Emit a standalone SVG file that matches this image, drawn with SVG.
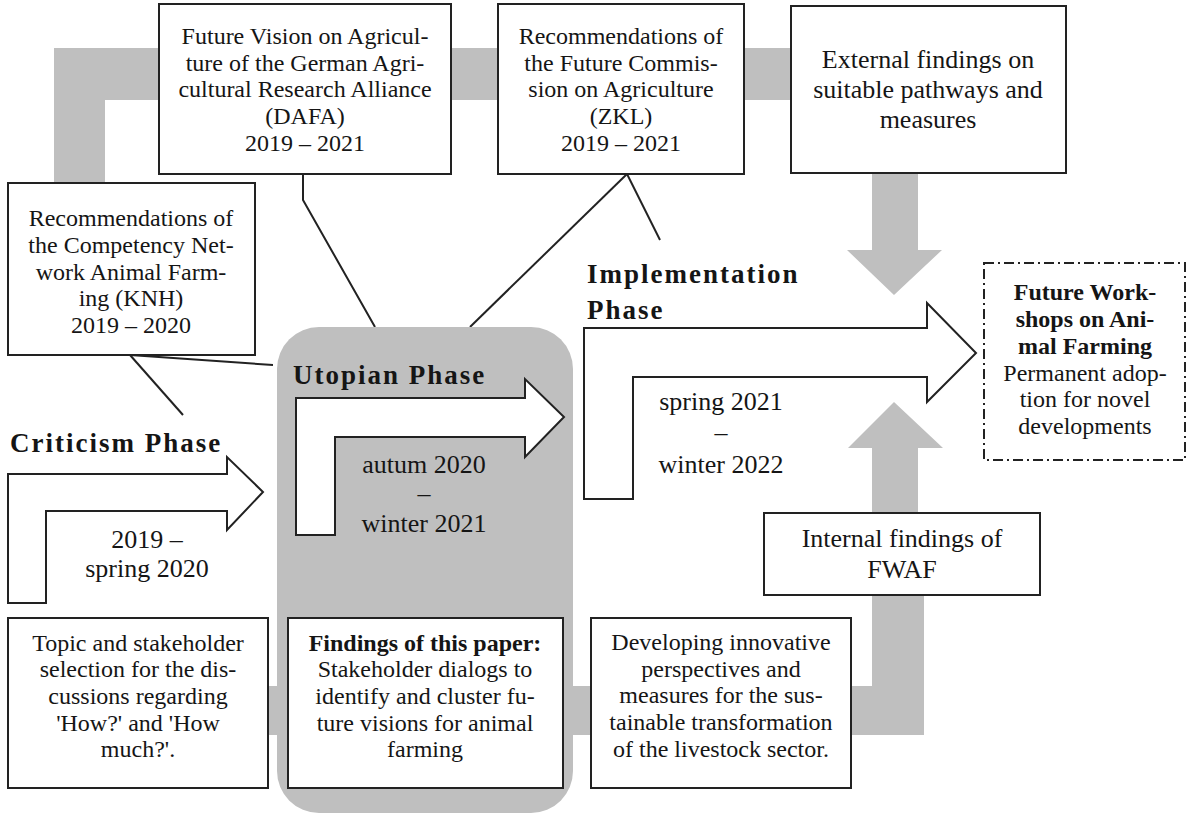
<svg xmlns="http://www.w3.org/2000/svg" width="1187" height="814" viewBox="0 0 1187 814">
<style>
.band{fill:#bfbfbf;stroke:none}
.box{fill:#fff;stroke:#222;stroke-width:2}
.dash{fill:#fff;stroke:#222;stroke-width:2;stroke-dasharray:10 4 2 4}
.arr{fill:#fff;stroke:#222;stroke-width:2;stroke-linejoin:miter}
.ln{fill:none;stroke:#222;stroke-width:2}
.t{font-family:"Liberation Serif","Times New Roman",serif;font-size:24px;fill:#151515;text-anchor:middle}
.tl{font-family:"Liberation Serif","Times New Roman",serif;font-size:26px;fill:#151515;text-anchor:middle}
.b{font-weight:bold}
.ph{font-family:"Liberation Serif","Times New Roman",serif;font-size:27px;font-weight:bold;letter-spacing:2px;fill:#151515}
</style>
<rect x="0" y="0" width="1187" height="814" fill="#fff"/>
<g id="connectors">
  <path class="band" d="M54,48 H791 V100 H105 V183 H54 Z"/>
  <path class="band" d="M872,173 H918 V250 H942 L894,295 L847,250 H872 Z"/>
  <path class="band" d="M138,686 H872 V595 H924 V735 H138 Z"/>
  <path class="band" d="M872,513 V448 H848 L894,402 L943,448 H918 V513 Z"/>
  <polyline class="ln" points="303,174 303,200 375,327"/>
  <line class="ln" x1="627" y1="174" x2="660" y2="240"/>
  <line class="ln" x1="627" y1="174" x2="470" y2="327"/>
  <line class="ln" x1="130" y1="355" x2="183" y2="415"/>
  <line class="ln" x1="130" y1="355" x2="273" y2="365"/>
</g>
<g id="utopian-phase">
  <rect class="band" x="277" y="327" width="296" height="486" rx="42" ry="42"/>
  <text class="ph" x="293" y="384">Utopian Phase</text>
  <polygon class="arr" points="296,535 296,398 525,398 525,379 564,417 525,457 525,437 335,437 335,535"/>
  <text class="tl" x="424" y="473">autum 2020</text>
  <text class="tl" x="424" y="502">–</text>
  <text class="tl" x="424" y="532">winter 2021</text>
</g>
<g id="criticism-phase">
  <text class="ph" x="10" y="452">Criticism Phase</text>
  <polygon class="arr" points="8,603 8,474 227,474 227,457 263,492 227,530 227,511 46,511 46,603"/>
  <text class="tl" x="147" y="548">2019 –</text>
  <text class="tl" x="147" y="577">spring 2020</text>
</g>
<g id="implementation-phase">
  <text class="ph" x="587" y="283">Implementation</text>
  <text class="ph" x="587" y="319">Phase</text>
  <polygon class="arr" points="584,499 584,328 927,328 927,303 976,353 927,402 927,377 633,377 633,499"/>
  <text class="tl" x="721" y="410">spring 2021</text>
  <text class="tl" x="721" y="441">–</text>
  <text class="tl" x="721" y="473">winter 2022</text>
</g>
<g id="dafa">
  <rect class="box" x="159" y="4" width="292" height="170"/>
  <text class="t" x="305" y="44">Future Vision on Agricul-</text>
  <text class="t" x="305" y="71">ture of the German Agri-</text>
  <text class="t" x="305" y="97">cultural Research Alliance</text>
  <text class="t" x="305" y="124">(DAFA)</text>
  <text class="t" x="305" y="151">2019 – 2021</text>
</g>
<g id="zkl">
  <rect class="box" x="498" y="4" width="246" height="170"/>
  <text class="t" x="621" y="44">Recommendations of</text>
  <text class="t" x="621" y="71">the Future Commis-</text>
  <text class="t" x="621" y="97">sion on Agriculture</text>
  <text class="t" x="621" y="124">(ZKL)</text>
  <text class="t" x="621" y="151">2019 – 2021</text>
</g>
<g id="external">
  <rect class="box" x="791" y="6" width="275" height="167"/>
  <text class="tl" x="928" y="68">External findings on</text>
  <text class="tl" x="928" y="98">suitable pathways and</text>
  <text class="tl" x="928" y="128">measures</text>
</g>
<g id="knh">
  <rect class="box" x="8" y="183" width="247" height="172"/>
  <text class="t" x="131" y="226">Recommendations of</text>
  <text class="t" x="131" y="253">the Competency Net-</text>
  <text class="t" x="131" y="280">work Animal Farm-</text>
  <text class="t" x="131" y="306">ing (KNH)</text>
  <text class="t" x="131" y="333">2019 – 2020</text>
</g>
<g id="future-workshops">
  <rect class="dash" x="984" y="263" width="201" height="197"/>
  <text class="t b" x="1085" y="300">Future Work-</text>
  <text class="t b" x="1085" y="327">shops on Ani-</text>
  <text class="t b" x="1085" y="354">mal Farming</text>
  <text class="t" x="1085" y="381">Permanent adop-</text>
  <text class="t" x="1085" y="407">tion for novel</text>
  <text class="t" x="1085" y="434">developments</text>
</g>
<g id="internal">
  <rect class="box" x="764" y="513" width="276" height="82"/>
  <text class="tl" x="902" y="547">Internal findings of</text>
  <text class="tl" x="902" y="578">FWAF</text>
</g>
<g id="topic-selection">
  <rect class="box" x="8" y="618" width="260" height="170"/>
  <text class="t" x="138" y="651">Topic and stakeholder</text>
  <text class="t" x="138" y="677">selection for the dis-</text>
  <text class="t" x="138" y="704">cussions regarding</text>
  <text class="t" x="138" y="731">'How?' and 'How</text>
  <text class="t" x="138" y="757">much?'.</text>
</g>
<g id="findings">
  <rect class="box" x="288" y="618" width="275" height="170"/>
  <text class="t b" x="425" y="651">Findings of this paper:</text>
  <text class="t" x="425" y="677">Stakeholder dialogs to</text>
  <text class="t" x="425" y="704">identify and cluster fu-</text>
  <text class="t" x="425" y="731">ture visions for animal</text>
  <text class="t" x="425" y="757">farming</text>
</g>
<g id="developing">
  <rect class="box" x="591" y="618" width="260" height="170"/>
  <text class="t" x="721" y="650">Developing innovative</text>
  <text class="t" x="721" y="677">perspectives and</text>
  <text class="t" x="721" y="703">measures for the sus-</text>
  <text class="t" x="721" y="730">tainable transformation</text>
  <text class="t" x="721" y="757">of the livestock sector.</text>
</g>
</svg>
